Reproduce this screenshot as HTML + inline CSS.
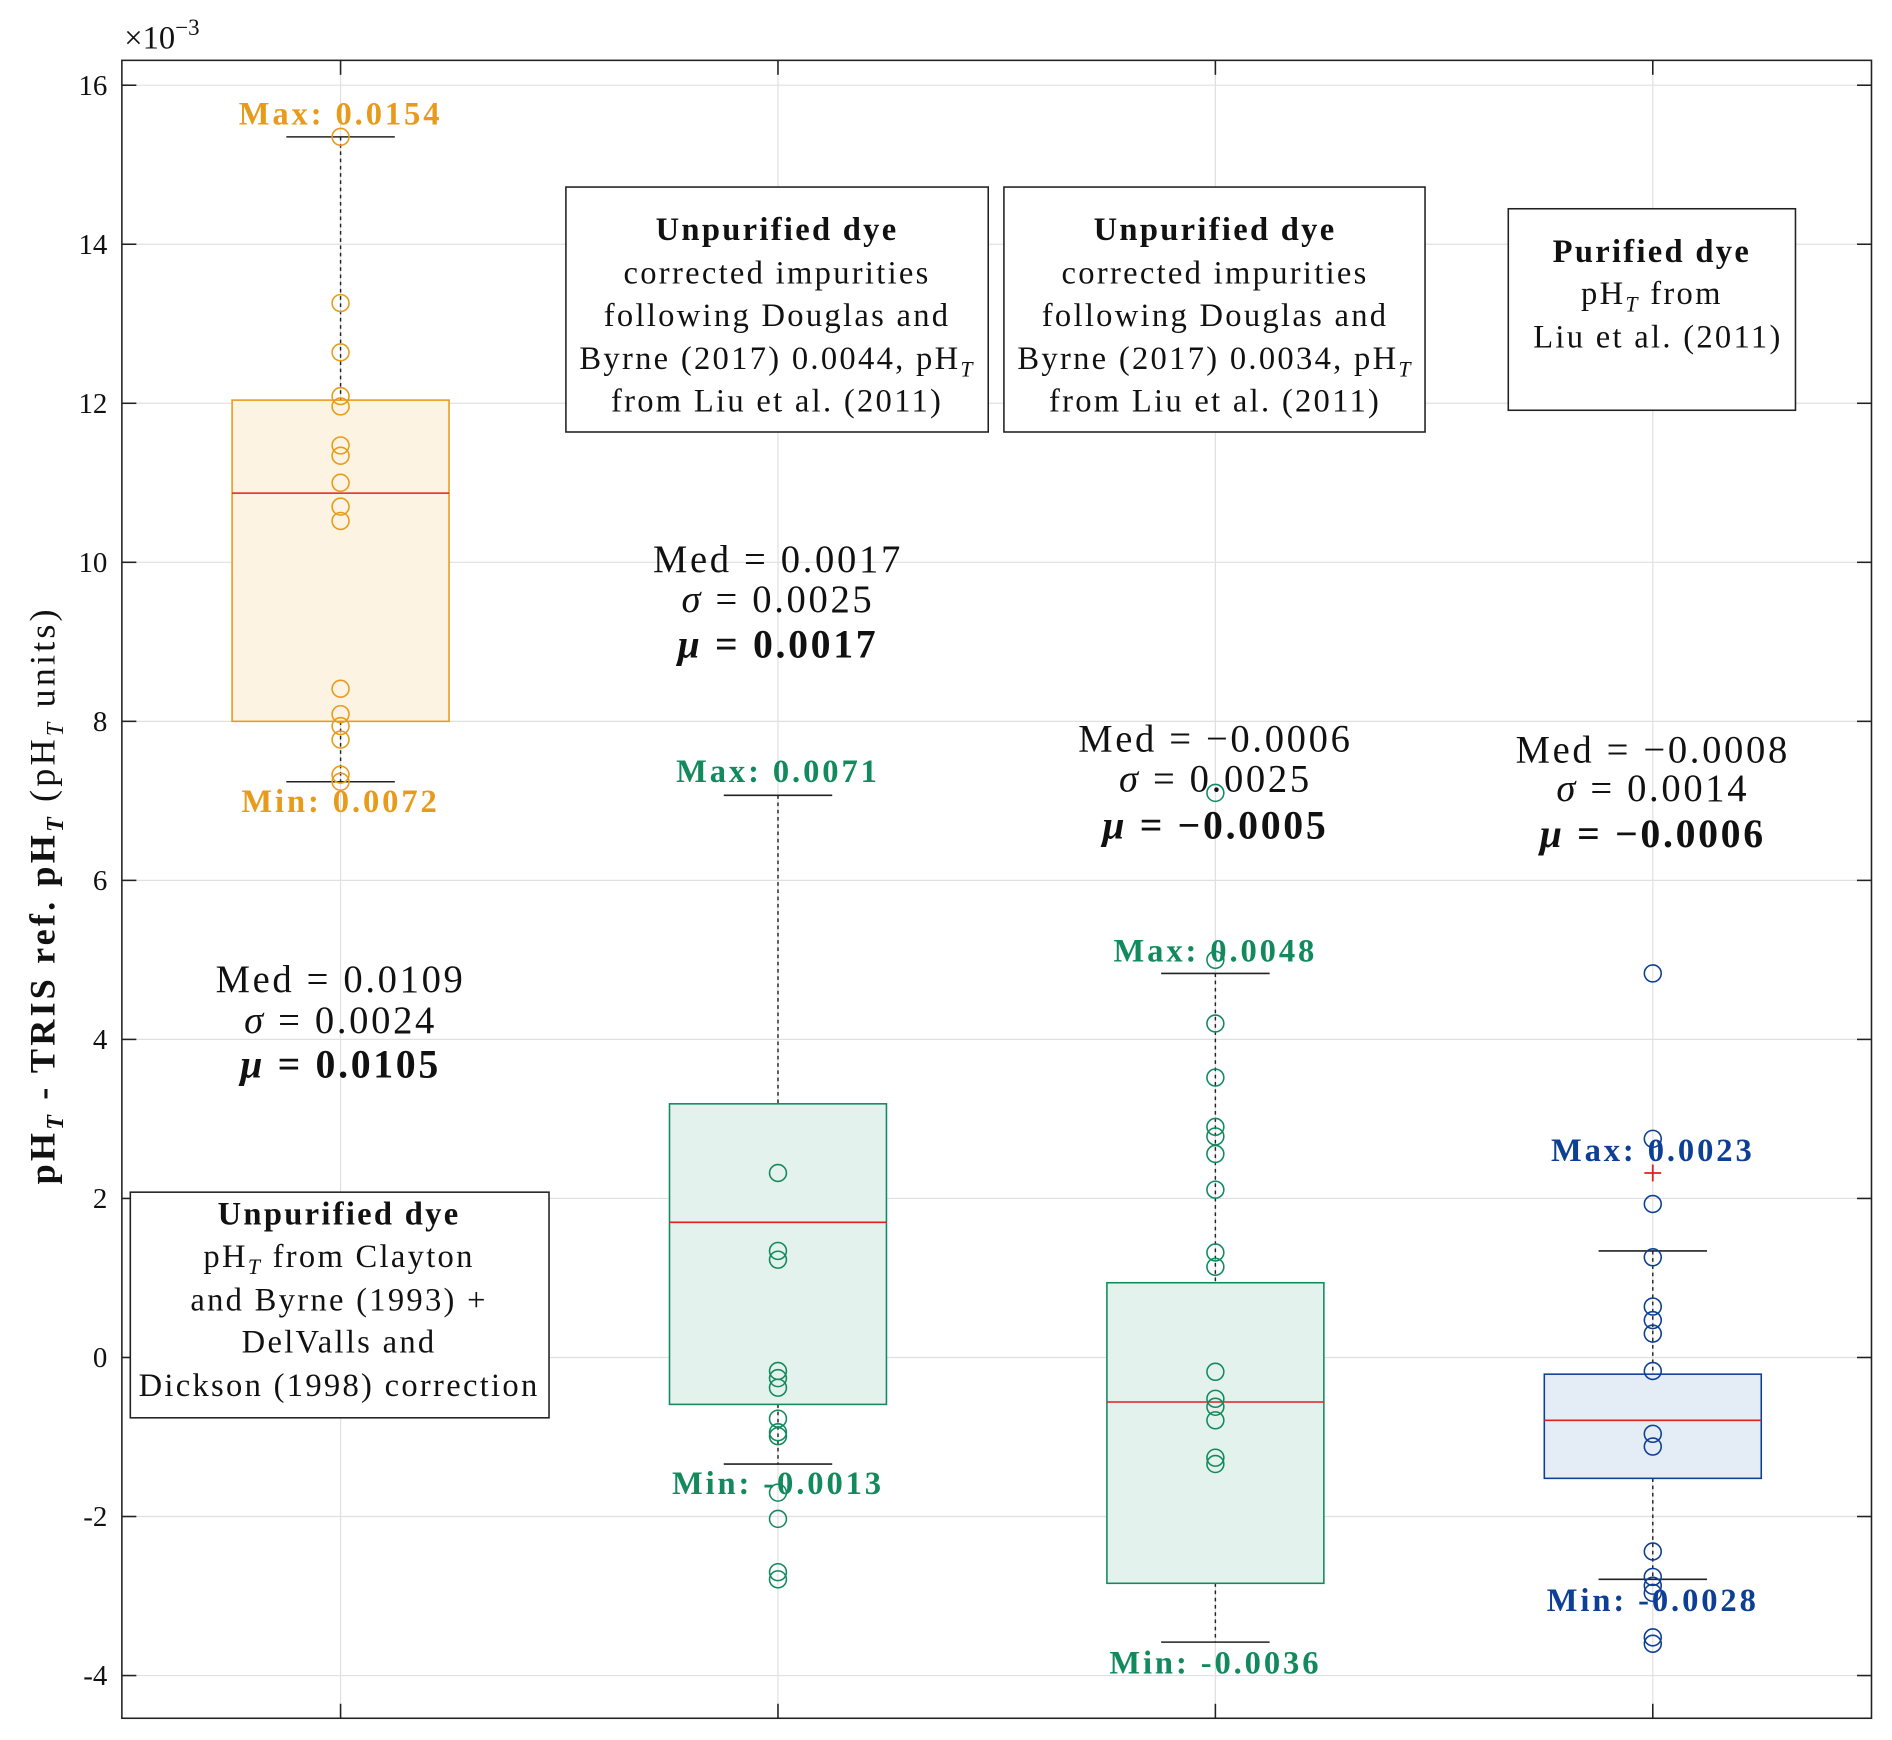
<!DOCTYPE html>
<html><head><meta charset="utf-8"><style>
html,body{margin:0;padding:0;background:#fff}
svg{display:block}
text{font-family:"Liberation Serif","DejaVu Serif",serif;fill:#111}
.bx text{letter-spacing:1.9px}
</style></head><body>
<svg id="chart" width="1892" height="1740" viewBox="0 0 1568 1442" xmlns="http://www.w3.org/2000/svg">
<rect x="0" y="0" width="1568" height="1442" fill="#fff"/>
<g id="grid"></g>
<g id="marks"></g>
<rect x="101" y="50" width="1450" height="1374" fill="none" stroke="#222" stroke-width="1.3"/>
<g id="axes"></g>
<text x="103" y="40" font-size="27">×10<tspan dy="-11" font-size="19">−3</tspan></text>
<text transform="translate(45,742) rotate(-90)" text-anchor="middle" font-size="30" letter-spacing="2.6"><tspan font-weight="bold">pH<tspan font-style="italic" font-size="20" dy="7">T</tspan><tspan dy="-7"> - TRIS ref. pH</tspan><tspan font-style="italic" font-size="20" dy="7">T</tspan></tspan><tspan dy="-7"> (pH</tspan><tspan font-style="italic" font-size="20" dy="7">T</tspan><tspan dy="-7"> units)</tspan></text>

<g class="bx" font-size="27" text-anchor="middle">
<rect x="108" y="988" width="347" height="187" fill="#fff" stroke="#222" stroke-width="1.3"/>
<text x="281" y="1015" font-weight="bold">Unpurified dye</text>
<text x="281" y="1050">pH<tspan font-style="italic" font-size="18" dy="6">T</tspan><tspan dy="-6"> from Clayton</tspan></text>
<text x="281" y="1086">and Byrne (1993) +</text>
<text x="281" y="1121">DelValls and</text>
<text x="281" y="1157" letter-spacing="1.2">Dickson (1998) correction</text>
</g>
<g class="bx" font-size="27" text-anchor="middle">
<rect x="469" y="155" width="350" height="203" fill="#fff" stroke="#222" stroke-width="1.3"/>
<text x="644" y="199" font-weight="bold">Unpurified dye</text>
<text x="644" y="235">corrected impurities</text>
<text x="644" y="270">following Douglas and</text>
<text x="644" y="306" letter-spacing="1.2">Byrne (2017) 0.0044, pH<tspan font-style="italic" font-size="18" dy="6">T</tspan></text>
<text x="644" y="341">from Liu et al. (2011)</text>
</g>
<g class="bx" font-size="27" text-anchor="middle">
<rect x="832" y="155" width="349" height="203" fill="#fff" stroke="#222" stroke-width="1.3"/>
<text x="1007" y="199" font-weight="bold">Unpurified dye</text>
<text x="1007" y="235">corrected impurities</text>
<text x="1007" y="270">following Douglas and</text>
<text x="1007" y="306" letter-spacing="1.2">Byrne (2017) 0.0034, pH<tspan font-style="italic" font-size="18" dy="6">T</tspan></text>
<text x="1007" y="341">from Liu et al. (2011)</text>
</g>
<g class="bx" font-size="27" text-anchor="middle">
<rect x="1250" y="173" width="238" height="167" fill="#fff" stroke="#222" stroke-width="1.3"/>
<text x="1369" y="217" font-weight="bold">Purified dye</text>
<text x="1369" y="252">pH<tspan font-style="italic" font-size="18" dy="6">T</tspan><tspan dy="-6"> from</tspan></text>
<text x="1374" y="288">Liu et al. (2011)</text>
</g>
<g id="labels"></g>
</svg>
<script>
const categories=["G1","G2","G3","G4"];
const colors=["#E89B1A","#128A5E","#128A5E","#0D3F94"];
const fills=["#FCF3E3","#E3F2EC","#E3F2EC","#E4ECF5"];
const q1=[8.0,-0.59,-2.84,-1.52];
const q3=[12.04,3.19,0.94,-0.21];
const medians=[10.87,1.70,-0.56,-0.79];
const whiskerLo=[7.24,-1.34,-3.58,-2.79];
const whiskerHi=[15.35,7.07,4.83,1.34];
const outliers=[[],[],[],[2.32]];
const points=[
[15.35,13.26,12.64,12.09,11.96,11.47,11.34,11.0,10.7,10.52,8.41,8.09,7.94,7.77,7.33,7.24],
[2.32,1.34,1.23,-0.17,-0.26,-0.38,-0.77,-0.94,-0.99,-1.7,-2.03,-2.7,-2.79],
[7.1,5.0,4.2,3.52,2.9,2.78,2.56,2.11,1.32,1.14,-0.18,-0.52,-0.62,-0.79,-1.26,-1.34],
[4.83,2.75,1.93,1.26,0.64,0.47,0.30,-0.17,-0.96,-1.12,-2.44,-2.76,-2.87,-2.96,-3.52,-3.6]];
const medText=["0.0109","0.0017","\u22120.0006","\u22120.0008"];
const sdText=["0.0024","0.0025","0.0025","0.0014"];
const muText=["0.0105","0.0017","\u22120.0005","\u22120.0006"];
const maxText=["0.0154","0.0071","0.0048","0.0023"];
const minText=["0.0072","-0.0013","-0.0036","-0.0028"];
const yTicks=[-4,-2,0,2,4,6,8,10,12,14,16];

const L=101,R=1551,T=50,B=1424;
const xS=i=>L+(i+1-0.5)/4*(R-L);
const yS=v=>1125-v*65.9;
const NS="http://www.w3.org/2000/svg";
function mk(p,t,a){const e=document.createElementNS(NS,t);for(const k in a)e.setAttribute(k,a[k]);p.appendChild(e);return e;}
const grid=document.getElementById('grid'),marks=document.getElementById('marks'),axes=document.getElementById('axes'),labels=document.getElementById('labels');
const unit=(R-L)/4;
yTicks.forEach(v=>{
 const y=yS(v);
 const g=mk(grid,'line',{x1:L,x2:R,y1:y,y2:y,stroke:'#e0e0e0','stroke-width':1});
 
 
 mk(axes,'line',{x1:L,x2:L+12,y1:y,y2:y,stroke:'#222','stroke-width':1.3});
 mk(axes,'line',{x1:R,x2:R-12,y1:y,y2:y,stroke:'#222','stroke-width':1.3});
 const t=mk(axes,'text',{x:L-12,y:y+8,'text-anchor':'end','font-size':24});
 t.textContent=String(v);
 
 
});
categories.forEach((c,i)=>{
 const x=xS(i);
 const g=mk(grid,'line',{x1:x,x2:x,y1:T,y2:B,stroke:'#e0e0e0','stroke-width':1});
 
 
 mk(axes,'line',{x1:x,x2:x,y1:T,y2:T+12,stroke:'#222','stroke-width':1.3});
 mk(axes,'line',{x1:x,x2:x,y1:B,y2:B-12,stroke:'#222','stroke-width':1.3});
 const col=colors[i];
 const hw=0.248*unit,cw=0.124*unit;
 const grp=mk(marks,'g',{});
 
 
 mk(grp,'line',{x1:x,x2:x,y1:yS(whiskerHi[i]),y2:yS(q3[i]),stroke:'#222','stroke-width':1.2,'stroke-dasharray':'3,3'});
 mk(grp,'line',{x1:x,x2:x,y1:yS(q1[i]),y2:yS(whiskerLo[i]),stroke:'#222','stroke-width':1.2,'stroke-dasharray':'3,3'});
 mk(grp,'line',{x1:x-cw,x2:x+cw,y1:yS(whiskerHi[i]),y2:yS(whiskerHi[i]),stroke:'#222','stroke-width':1.3});
 mk(grp,'line',{x1:x-cw,x2:x+cw,y1:yS(whiskerLo[i]),y2:yS(whiskerLo[i]),stroke:'#222','stroke-width':1.3});
 const bx=mk(grp,'rect',{x:x-hw,y:yS(q3[i]),width:2*hw,height:yS(q1[i])-yS(q3[i]),fill:fills[i],stroke:col,'stroke-width':1.3});
 
 
 const md=mk(grp,'line',{x1:x-hw,x2:x+hw,y1:yS(medians[i]),y2:yS(medians[i]),stroke:'#e02020','stroke-width':1.3});
 
 
 outliers[i].forEach(v=>{
  const y=yS(v);
  const o=mk(grp,'g',{stroke:'#e02020','stroke-width':1.5});
  mk(o,'line',{x1:x-7,x2:x+7,y1:y,y2:y});
  mk(o,'line',{x1:x,x2:x,y1:y-7,y2:y+7});
  
  
 });
 points[i].forEach(v=>{
  const p=mk(grp,'circle',{cx:x,cy:yS(v),r:7,fill:'none',stroke:col,'stroke-width':1.3});
  
  
 });
});
const statY=[[822,856,893],[474,507,545],[623,656,695],[632,664,702]];
const maxY=[103,648,797,962],minY=[673,1238,1387,1335];
categories.forEach((c,i)=>{
 const x=xS(i);
 const s=mk(labels,'g',{'text-anchor':'middle','font-size':32,'letter-spacing':2.2});
 
 
 mk(s,'text',{x:x,y:statY[i][0]}).textContent='Med = '+medText[i];
 const sd=mk(s,'text',{x:x,y:statY[i][1]});
 sd.innerHTML='<tspan font-style="italic">\u03c3</tspan> = '+sdText[i];
 const mu=mk(s,'text',{x:x,y:statY[i][2],'font-weight':'bold','font-size':33});
 mu.innerHTML='<tspan font-style="italic">\u03bc</tspan> = '+muText[i];
 const mx=mk(labels,'text',{x:x,y:maxY[i],'text-anchor':'middle','font-size':27,'font-weight':'bold','letter-spacing':2.4});
 mx.style.fill=colors[i];
 mx.textContent='Max:  '+maxText[i];
 
 
 const mn=mk(labels,'text',{x:x,y:minY[i],'text-anchor':'middle','font-size':27,'font-weight':'bold','letter-spacing':2.4});
 mn.style.fill=colors[i];
 mn.textContent='Min:  '+minText[i];
 
 
});
</script>
</body></html>
